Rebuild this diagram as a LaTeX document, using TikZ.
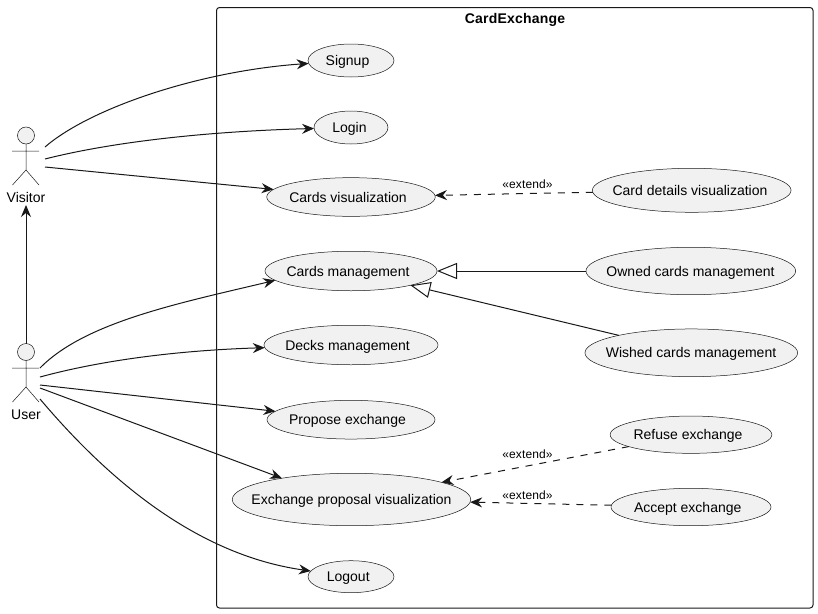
\documentclass[tikz,border=0pt]{standalone}
\usepackage{fontspec}
\setmainfont{Liberation Sans}
\newfontfamily\titlefont[LetterSpace=1.5]{Liberation Sans}
\newfontfamily\stereofont[LetterSpace=1.0]{Liberation Sans}
\usetikzlibrary{shapes.geometric,arrows.meta}
\definecolor{ink}{HTML}{181818}
\definecolor{uc}{HTML}{F1F1F1}
\newcommand{\uctext}[2]{\makebox[0pt][c]{\raisebox{-5pt}[0pt][0pt]{\hspace*{#1pt}#2}}}
\tikzset{
  usecase/.style={ellipse,draw=ink,fill=uc,line width=0.5pt,inner sep=0pt,outer sep=0pt,font=\fontsize{14}{16}\selectfont,text=black},
  assoc/.style={draw=ink,line width=1pt,-{Stealth[length=12pt,width=10pt,inset=4pt]}},
  ext/.style={assoc,dash pattern=on 7pt off 7pt},
  gen/.style={draw=ink,line width=1pt,-{Triangle[open,fill=white,length=20pt,width=16pt]}},
  stereo/.style={font=\fontsize{12}{14}\selectfont\stereofont,inner sep=0pt,text=black},
  actorname/.style={font=\fontsize{14}{16}\selectfont,inner sep=0pt,text=black},
  actorline/.style={draw=ink,line width=0.5pt},
  actorhead/.style={circle,draw=ink,fill=uc,line width=0.5pt,minimum size=17pt,inner sep=0pt,outer sep=0pt},
}
\begin{document}
\begin{tikzpicture}[x=1pt,y=-1pt]
\useasboundingbox (0,0) rectangle (818,613);
\draw[ink,line width=1pt,rounded corners=3pt] (216.5,7.5) rectangle (813,608);
\node[inner sep=0pt,font=\fontsize{14}{16}\selectfont\titlefont\bfseries] (title) at (515,19) {\uctext{0}{CardExchange}};
% use cases
\node[usecase,minimum width=86pt,minimum height=33pt] (signup) at (351,60.5) {\uctext{-7}{Signup}};
\node[usecase,minimum width=74pt,minimum height=33pt] (login) at (351,127.5) {\uctext{-3}{Login}};
\node[usecase,minimum width=168.5pt,minimum height=38.7pt] (cardsvis) at (351,197) {\uctext{-6}{Cards visualization}};
\node[usecase,minimum width=172pt,minimum height=39.5pt] (cardsman) at (351,271) {\uctext{-6}{Cards management}};
\node[usecase,minimum width=174pt,minimum height=39.5pt] (decks) at (351,345) {\uctext{-7}{Decks management}};
\node[usecase,minimum width=168pt,minimum height=38.7pt] (propose) at (351,419.7) {\uctext{-7}{Propose exchange}};
\node[usecase,minimum width=238.5pt,minimum height=52.4pt] (proposal) at (351.5,499.5) {\uctext{0}{Exchange proposal visualization}};
\node[usecase,minimum width=86pt,minimum height=32pt] (logout) at (351,576.7) {\uctext{-5.5}{Logout}};
\node[usecase,minimum width=198.7pt,minimum height=44pt] (details) at (691.7,190.3) {\uctext{-3.4}{Card details visualization}};
\node[usecase,minimum width=209.7pt,minimum height=47.4pt] (owned) at (690.8,271) {\uctext{-0.6}{Owned cards management}};
\node[usecase,minimum width=212.7pt,minimum height=47.7pt] (wished) at (691.3,352.8) {\uctext{-0.6}{Wished cards management}};
\node[usecase,minimum width=161.7pt,minimum height=37.3pt] (refuse) at (691,434.7) {\uctext{-6}{Refuse exchange}};
\node[usecase,minimum width=160pt,minimum height=37.4pt] (accept) at (691,507) {\uctext{-6.6}{Accept exchange}};
% actors
\node[actorhead] (vhead) at (26,135.5) {};
\draw[actorline] (vhead.south) -- (26,170) (12,151) -- (39,151) (12.5,185) -- (26,170) -- (39,185);
\node[actorname] (visitor) at (26,197) {\uctext{0}{Visitor}};
\node[actorhead] (uhead) at (26,352) {};
\draw[actorline] (uhead.south) -- (26,387) (12,368) -- (39,368) (12.5,402) -- (26,387) -- (39,402);
\node[actorname] (user) at (26,414) {\uctext{0}{User}};
\coordinate (v1) at (45,147);
\coordinate (v2) at (45,159);
\coordinate (v3) at (45,167);
\coordinate (u1) at (40,368);
\coordinate (u2) at (40,377);
\coordinate (u3) at (40,385);
\coordinate (u4) at (40,388);
\coordinate (u5) at (40,399);
\coordinate (vbottom) at (26,205);
% associations
\draw[assoc] (v1) .. controls (90,108) and (200,71) .. (signup);
\draw[assoc] (v2) .. controls (120,140) and (220,131) .. (login);
\draw[assoc] (v3) -- (cardsvis);
\draw[assoc] (u1) .. controls (85,322) and (180,303) .. (cardsman.187.5);
\draw[assoc] (u2) .. controls (110,358) and (190,350) .. (decks);
\draw[assoc] (u3) -- (propose);
\draw[assoc] (u4) -- (proposal.163.7);
\draw[assoc] (u5) .. controls (100,470) and (190,554) .. (logout);
\draw[assoc] (uhead.north) -- (vbottom);
\draw[ext] (details) -- (cardsvis);
\draw[ext] (refuse) -- (proposal);
\draw[ext] (accept) -- (proposal);
\draw[gen] (owned) -- (cardsman);
\draw[gen] (wished) -- (cardsman);
\node[stereo] (e1) at (527.5,184) {\makebox[0pt][c]{\raisebox{-4.5pt}[0pt][0pt]{«extend»}}};
\node[stereo] (e2) at (527.5,453.5) {\makebox[0pt][c]{\raisebox{-4.5pt}[0pt][0pt]{«extend»}}};
\node[stereo] (e3) at (527.5,494.5) {\makebox[0pt][c]{\raisebox{-4.5pt}[0pt][0pt]{«extend»}}};
\end{tikzpicture}
\end{document}
